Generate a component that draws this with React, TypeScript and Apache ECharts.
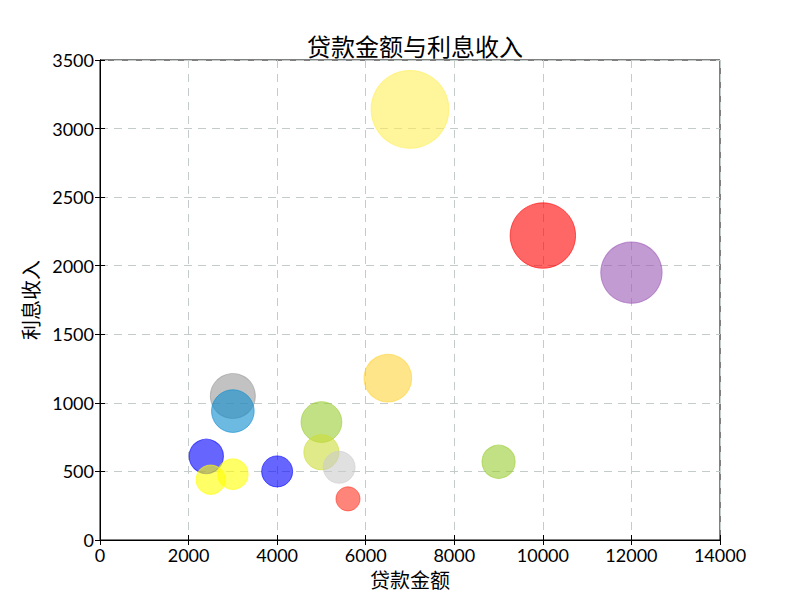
import { useRef, useEffect } from "react";
import * as echarts from "echarts";

// loan amount (x), interest income (y); bubble area follows the interest income
const loanAmount = [3000, 3000, 2400, 2500, 3000, 4000, 5000, 5000, 5400, 5600, 6500, 7000, 9000, 10000, 12000];
const interestIncome = [1050, 940, 610, 440, 480, 500, 860, 640, 530, 300, 1180, 3140, 570, 2220, 1950];
const bubbleColors = [
  "#999999", "#0a8ccf", "#0000ff", "#ffff00", "#ffff00", "#0000ff", "#9acd32", "#cddc39",
  "#cccccc", "#ff3322", "#ffd43b", "#ffee58", "#9acd32", "#ff0000", "#9b59b6",
];

const FONT = "Lato, 'Noto Sans CJK SC', sans-serif";
const GRID_LINE = { show: true, lineStyle: { color: "#c3cbcb", type: [8, 6] as number[], width: 1 } };

function rgba(hex: string, a: number) {
  const n = parseInt(hex.slice(1), 16);
  return `rgba(${(n >> 16) & 255},${(n >> 8) & 255},${n & 255},${a})`;
}

export default function App() {
  const chartRef = useRef<HTMLDivElement>(null);

  useEffect(() => {
    document.body.style.margin = "0";
    if (!chartRef.current) return;
    const chart = echarts.init(chartRef.current, undefined, { renderer: "svg" });

    const tickAxis = {
      type: "value" as const,
      axisLine: { show: true, lineStyle: { color: "#000", width: 1 } },
      axisTick: { show: true, inside: true, length: 5, lineStyle: { color: "#000" } },
    };
    const plain = (v: number) => String(v);

    chart.setOption({
      animation: false,
      backgroundColor: "#fff",
      textStyle: { fontFamily: FONT },
      title: {
        text: "贷款金额与利息收入",
        left: 302,
        top: 29,
        textStyle: { fontFamily: FONT, fontSize: 24, fontWeight: "normal", color: "#000" },
      },
      grid: { left: 100, right: 80, top: 60, bottom: 60, show: true, borderColor: "#000", borderWidth: 1 },
      xAxis: [
        {
          ...tickAxis,
          min: 0,
          max: 14000,
          interval: 2000,
          position: "bottom",
          axisLabel: { fontSize: 18, color: "#000", margin: 6, fontFamily: FONT, formatter: plain },
          splitLine: GRID_LINE,
          name: "贷款金额",
          nameLocation: "middle",
          nameGap: 30,
          nameTextStyle: { fontSize: 20, color: "#000", fontFamily: FONT },
        },
        {
          ...tickAxis,
          min: 0,
          max: 14000,
          interval: 2000,
          position: "top",
          axisLabel: { show: false },
          splitLine: { show: false },
        },
      ],
      yAxis: [
        {
          ...tickAxis,
          min: 0,
          max: 3500,
          interval: 500,
          position: "left",
          axisLabel: { fontSize: 18, color: "#000", margin: 6, fontFamily: FONT, formatter: plain },
          splitLine: GRID_LINE,
          name: "利息收入",
          nameLocation: "middle",
          nameGap: 56,
          nameTextStyle: { fontSize: 20, color: "#000", fontFamily: FONT },
        },
        {
          ...tickAxis,
          min: 0,
          max: 3500,
          interval: 500,
          position: "right",
          axisLabel: { show: false },
          splitLine: { show: false },
        },
      ],
      series: [
        {
          type: "scatter",
          xAxisIndex: 0,
          yAxisIndex: 0,
          symbol: "circle",
          // matplotlib-like: marker area s (pt^2) at 100 dpi -> diameter px
          symbolSize: (val: number[]) => Math.sqrt(val[2]) / 0.72,
          data: loanAmount.map((x, i) => ({
            value: [x, interestIncome[i], interestIncome[i]],
            itemStyle: {
              color: rgba(bubbleColors[i], 0.6),
              borderColor: rgba(bubbleColors[i], 0.6),
              borderWidth: 1,
              opacity: 1,
            },
          })),
          emphasis: { disabled: true },
        },
      ],
    });

    return () => {
      chart.dispose();
    };
  }, []);

  return <div ref={chartRef} style={{ width: 800, height: 600 }} />;
}
